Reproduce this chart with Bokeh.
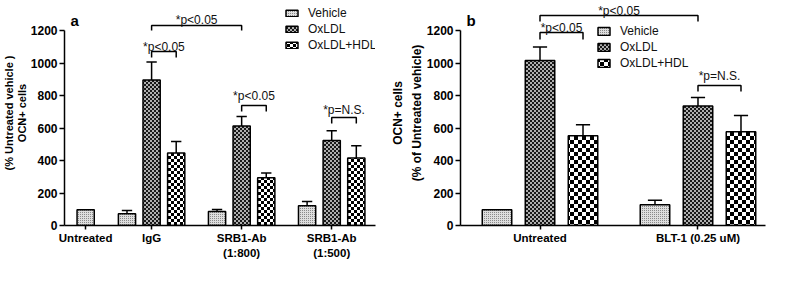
import zlib, struct, base64
from bokeh.plotting import figure
from bokeh.models import (Range1d, FixedTicker, Label, Legend, LegendItem,
                          ImageURLTexture, ColumnDataSource)
from bokeh.layouts import row
from bokeh.embed import file_html
from bokeh.resources import INLINE
from bokeh.core.properties import value

FONT = "Liberation Sans"

# ---------------- data : panel a ----------------
a_groups = ["Untreated", "IgG", "SRB1-Ab\n(1:800)", "SRB1-Ab\n(1:500)"]
a_vehicle = [97, 72, 86, 121]
a_vehicle_sem = [0, 20, 12, 26]
a_oxldl = [896, 613, 523]          # IgG, SRB1 1:800, SRB1 1:500
a_oxldl_sem = [110, 58, 60]
a_hdl = [446, 294, 415]
a_hdl_sem = [71, 29, 76]
# (group, series, group, series, line level, drop level, label, text baseline)
a_brackets = [
    (1, 0, 2, 0, 1231, 1200, "*p<0.05", 1265),
    (1, 0, 1, 1, 1071, 1034, "*p<0.05", 1101),
    (2, 0, 2, 1, 738, 701, "*p<0.05", 794),
    (3, 0, 3, 1, 665, 628, "*p=N.S.", 708),
]
a_ylabel = "(% Untreated vehicle )\nOCN+ cells"

# ---------------- data : panel b ----------------
b_groups = ["Untreated", "BLT-1 (0.25 uM)"]
b_vehicle = [97, 127]
b_vehicle_sem = [0, 28]
b_oxldl = [1016, 736]
b_oxldl_sem = [82, 52]
b_hdl = [552, 577]
b_hdl_sem = [68, 100]
b_brackets = [
    (0, 0, 1, 0, 1292, 1255, "*p<0.05", 1323),
    (0, 0, 0, 1, 1188, 1145, "*p<0.05", 1218),
    (1, 0, 1, 1, 862, 825, "*p=N.S.", 917),
]
b_ylabel = "OCN+ cells\n(% of Untreated vehicle)"

y_ticks = [0, 200, 400, 600, 800, 1000, 1200]
legend_labels = ["Vehicle", "OxLDL", "OxLDL+HDL"]


def png_url(rows):
    raw = b"".join(b"\x00" + bytes(c for px in r for c in px) for r in rows)

    def chunk(t, d):
        return struct.pack(">I", len(d)) + t + d + struct.pack(">I", zlib.crc32(t + d) & 0xffffffff)
    h, w = len(rows), len(rows[0])
    ihdr = struct.pack(">IIBBBBB", w, h, 8, 2, 0, 0, 0)
    data = (b"\x89PNG\r\n\x1a\n" + chunk(b"IHDR", ihdr) +
            chunk(b"IDAT", zlib.compress(raw)) + chunk(b"IEND", b""))
    return "data:image/png;base64," + base64.b64encode(data).decode()


def checker_rows(s, light, dark):
    h = s // 2
    return [[dark if ((x < h) == (y < h)) else light for x in range(s)] for y in range(s)]


def dot_rows(light, dark):
    return [[dark, light], [light, light]]


def make_panel(width, left, right, xr, centers, groups, veh, veh_sem, ox, ox_sem,
               hdl, hdl_sem, brackets, bar_w, cap_w, hdl_scale, letter, letter_pos,
               ylabel, ylabel_size, ylabel_lh, ylabel_standoff, legend_pos, legend_gh,
               first_single):
    p = figure(width=width, height=269, output_backend="svg", toolbar_location=None,
               x_range=Range1d(*xr), y_range=Range1d(0, 225 / 0.1625),
               min_border_left=left, min_border_right=right, min_border_top=0,
               min_border_bottom=44, tools="")
    p.outline_line_color = None
    p.xgrid.visible = False
    p.ygrid.visible = False

    styles = {
        "veh": dict(fill_color="#c8c8c8", hatch_pattern=value("veh"),
                    hatch_extra={"veh": ImageURLTexture(url=png_url(dot_rows((222, 222, 222), (138, 138, 138))))}),
        "ox": dict(fill_color="#6a6a6a", hatch_pattern=value("ox"),
                   hatch_extra={"ox": ImageURLTexture(url=png_url(checker_rows(4, (175, 175, 175), (25, 25, 25))))}),
        "hdl": dict(fill_color="#808080", hatch_pattern=value("hdl"),
                    hatch_extra={"hdl": ImageURLTexture(url=png_url(checker_rows(hdl_scale, (255, 255, 255), (0, 0, 0))))}),
    }

    if first_single:
        vx = [centers[0]] + [c - 1 for c in centers[1:]]
        gc = centers[1:]
    else:
        vx = [c - 1 for c in centers]
        gc = centers
    ox_x = list(gc)
    hdl_x = [c + 1 for c in gc]

    series = [("veh", vx, veh, veh_sem), ("ox", ox_x, ox, ox_sem), ("hdl", hdl_x, hdl, hdl_sem)]
    renderers = []
    for key, xs, tops, sems in series:
        src = ColumnDataSource(dict(x=xs, top=tops))
        r = p.vbar(x="x", top="top", bottom=0, width=bar_w, source=src,
                   line_color="black", line_width=1.5, **styles[key])
        renderers.append(r)
        ex = [x for x, s in zip(xs, sems) if s > 0]
        et = [t for t, s in zip(tops, sems) if s > 0]
        eu = [t + s for t, s in zip(tops, sems) if s > 0]
        p.segment(x0=ex, y0=et, x1=ex, y1=eu, line_color="black", line_width=1.5)
        p.segment(x0=[x - cap_w / 2 for x in ex], y0=eu, x1=[x + cap_w / 2 for x in ex], y1=eu,
                  line_color="black", line_width=1.5)

    # significance brackets
    def pos(g, s):
        return (gc[g - 1] if first_single else gc[g]) + s
    bxs, bys, tx, ty, tt = [], [], [], [], []
    for g1, s1, g2, s2, yl, yd, lab, yt in brackets:
        x1, x2 = pos(g1, s1), pos(g2, s2)
        bxs.append([x1, x1, x2, x2])
        bys.append([yd, yl, yl, yd])
        tx.append((x1 + x2) / 2)
        ty.append(yt)
        tt.append(lab)
    p.multi_line(xs=bxs, ys=bys, line_color="black", line_width=1.5)
    p.text(x=tx, y=ty, text=tt, text_align="center", text_baseline="alphabetic",
           text_font=value(FONT), text_font_size="12px", text_color="#111111")

    # axes
    p.yaxis.ticker = FixedTicker(ticks=y_ticks)
    p.yaxis.bounds = (0, 1200)
    p.xaxis.ticker = FixedTicker(ticks=list(centers))
    p.xaxis.major_label_overrides = {float(c): g for c, g in zip(centers, groups)}
    for ax in (p.xaxis[0], p.yaxis[0]):
        ax.axis_line_color = "black"
        ax.axis_line_width = 1.5
        ax.major_tick_line_color = "black"
        ax.major_tick_line_width = 1.5
        ax.major_tick_in = 0
        ax.minor_tick_line_color = None
        ax.major_label_text_font = FONT
        ax.major_label_text_font_style = "bold"
        ax.major_label_text_color = "black"
    p.yaxis.major_tick_out = 5
    p.yaxis.major_label_standoff = 2
    p.yaxis.major_label_text_font_size = "12px"
    p.xaxis.major_tick_out = 4
    p.xaxis.major_label_standoff = 2
    p.xaxis.major_label_text_font_size = "11.5px"
    p.xaxis.major_label_text_line_height = 1.3

    # y title on the axis itself
    p.yaxis.axis_label = ylabel
    p.yaxis.axis_label_standoff = ylabel_standoff
    p.yaxis.axis_label_text_font = FONT
    p.yaxis.axis_label_text_font_style = "bold"
    p.yaxis.axis_label_text_font_size = ylabel_size
    p.yaxis.axis_label_text_color = "black"
    p.yaxis.axis_label_text_line_height = ylabel_lh

    # panel letter (kept inside the plotting area)
    p.add_layout(Label(x=letter_pos[0], y=letter_pos[1], x_units="screen", y_units="screen",
                       text=letter, text_font=FONT, text_font_style="bold",
                       text_font_size="15px", text_color="black",
                       text_align="left", text_baseline="alphabetic"))

    # legend (inside the plotting area, in a free corner)
    lg = Legend(items=[LegendItem(label=lab, renderers=[r]) for r, lab in zip(renderers, legend_labels)],
                location=legend_pos, orientation="vertical", glyph_width=15,
                glyph_height=legend_gh, label_height=legend_gh, label_standoff=9,
                padding=0, margin=0, spacing=2, border_line_color=None,
                background_fill_alpha=0, label_text_font=FONT,
                label_text_font_size="12px", label_text_color="#111111")
    p.add_layout(lg)
    return p


pa = make_panel(382, 59, 7, (-0.86, 11.78), [0.0, 2.68, 6.34, 10.0], a_groups,
                a_vehicle, a_vehicle_sem, a_oxldl, a_oxldl_sem, a_hdl, a_hdl_sem,
                a_brackets, 0.7, 0.42, 6, "a", (6, 205),
                a_ylabel, "11px", 1.05, 0, (220, 173), 8, True)

pb = make_panel(387, 78, 4, (-1.849, 5.244), [0.0, 3.674], b_groups,
                b_vehicle, b_vehicle_sem, b_oxldl, b_oxldl_sem, b_hdl, b_hdl_sem,
                b_brackets, 0.686, 0.33, 8, "b", (6, 205),
                b_ylabel, "12px", 1.33, 0, (136, 155), 10, False)

layout = row(pa, pb)
open("out.html", "w").write(file_html(layout, INLINE))
